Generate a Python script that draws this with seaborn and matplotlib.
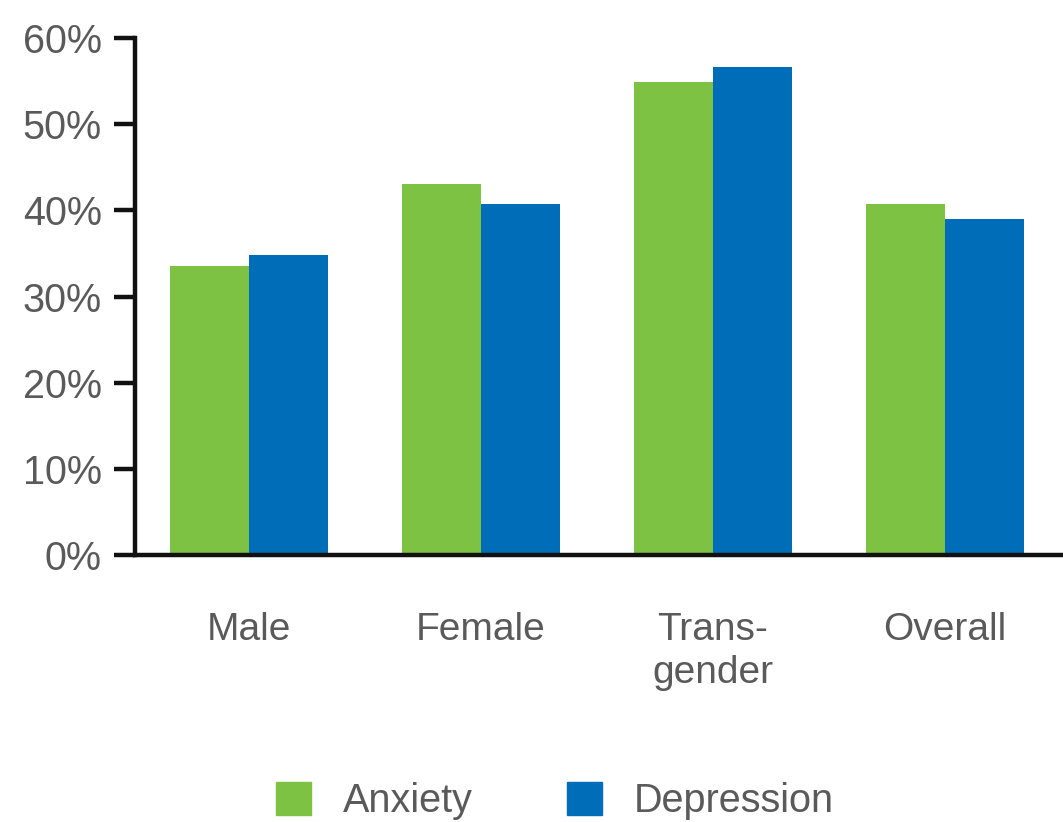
import matplotlib
matplotlib.use("Agg")
import matplotlib.pyplot as plt
import seaborn as sns
import pandas as pd
from matplotlib.ticker import PercentFormatter

# Share of respondents reporting each condition, by gender group
groups = ["Male", "Female", "Trans-\ngender", "Overall"]
anxiety = [33.5, 43.0, 54.9, 40.7]
depression = [34.8, 40.7, 56.6, 39.0]
conditions = ["Anxiety", "Depression"]
y_ticks = [0, 10, 20, 30, 40, 50, 60]

df = pd.DataFrame({
    "group": groups * 2,
    "condition": [conditions[0]] * len(groups) + [conditions[1]] * len(groups),
    "value": anxiety + depression,
})

sns.set_theme(style="white")
plt.rcParams["font.family"] = ["Liberation Sans", "DejaVu Sans"]
text_color = "#5a5a5a"
palette = {"Anxiety": "#7dc242", "Depression": "#006db8"}

fig = plt.figure(figsize=(10.63, 8.22), dpi=100)
ax = fig.add_axes([135 / 1063, 1 - 555 / 822, 1 - 135 / 1063, (555 - 38) / 822])

sns.barplot(data=df, x="group", y="value", hue="condition", order=groups,
            hue_order=conditions, palette=palette, width=0.68,
            saturation=1, linewidth=0, ax=ax, legend=False)

ax.set_xlim(-0.49, 3.51)
ax.set_ylim(0, 60)
ax.set_yticks(y_ticks)
ax.yaxis.set_major_formatter(PercentFormatter(decimals=0))
ax.set_xlabel("")
ax.set_ylabel("")

for side in ("top", "right"):
    ax.spines[side].set_visible(False)
for side in ("left", "bottom"):
    ax.spines[side].set_linewidth(3.2)
    ax.spines[side].set_color("#111111")

ax.tick_params(axis="y", direction="out", length=15, width=3.2, color="#111111",
               labelsize=28.5, labelcolor=text_color, pad=9, left=True)
ax.tick_params(axis="x", length=0, labelsize=28, labelcolor=text_color, pad=41)
for lbl in ax.get_xticklabels():
    lbl.set_linespacing(1.25)
    lbl.set_verticalalignment("top")

handles = [plt.Rectangle((0, 0), 1, 1, color=palette[c]) for c in conditions]
fig.legend(handles, conditions, loc="center", bbox_to_anchor=(555 / 1063, 1 - 801 / 822),
           ncol=2, frameon=False, fontsize=28.5, labelcolor=text_color,
           handlelength=0.87, handleheight=0.9, handletextpad=0.8, columnspacing=2.4)

fig.savefig("out.png", dpi=100)
